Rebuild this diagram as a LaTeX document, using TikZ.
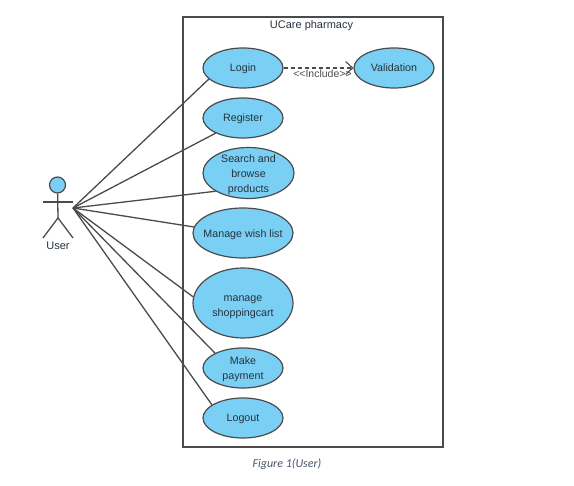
\documentclass[tikz,border=0pt]{standalone}
\usepackage{fontspec}
\setmainfont{Liberation Sans}
\newfontfamily\capfont{Carlito}
\usetikzlibrary{shapes.geometric,arrows.meta}
\definecolor{ucfill}{RGB}{122,207,245}
\definecolor{ucline}{RGB}{75,75,75}
\definecolor{txt}{RGB}{40,50,60}
\definecolor{captxt}{RGB}{68,84,106}
\newcommand{\lowerfirst}[1]{\rule{0pt}{#1}\ignorespaces}
\tikzset{
  x=1pt,y=-1pt,
  usecase/.style={ellipse,draw=ucline,line width=1.2pt,fill=ucfill,inner xsep=-20pt,inner ysep=-16pt,align=center,text=txt,font=\fontsize{10.7}{15.2}\selectfont},
  assoc/.style={draw=ucline,line width=1.3pt},
  sysbox/.style={draw=ucline,line width=1.3pt},
  label/.style={text=txt,font=\fontsize{11}{13}\selectfont,inner sep=0pt}
}
\begin{document}
\begin{tikzpicture}
\useasboundingbox (0,0) rectangle (574,486);
\node[sysbox,minimum width=260pt,minimum height=430pt,inner sep=0pt] (sys) at (313,232) {};
\node[label] (title) at (311.5,26) {UCare pharmacy};
\node[usecase,minimum width=80pt,minimum height=40pt] (login) at (243,68) {\lowerfirst{10pt}Login};
\node[usecase,minimum width=80pt,minimum height=40pt] (valid) at (394,68) {Validation};
\node[usecase,minimum width=80pt,minimum height=40pt] (reg) at (243,118) {\lowerfirst{10pt}Register};
\node[usecase,minimum width=91pt,minimum height=51pt] (search) at (248.5,173) {\lowerfirst{11pt}Search and\\browse\\products};
\node[usecase,minimum width=100pt,minimum height=50pt] (wish) at (243,233) {\lowerfirst{11pt}Manage wish list};
\node[usecase,minimum width=100pt,minimum height=70pt] (cart) at (243,303) {\lowerfirst{15pt}manage\\shoppingcart};
\node[usecase,minimum width=80pt,minimum height=40pt] (pay) at (243,368) {\lowerfirst{11pt}Make\\payment};
\node[usecase,minimum width=80pt,minimum height=40pt] (logout) at (243,418) {\lowerfirst{10pt}Logout};
% actor
\node[circle,draw=ucline,line width=1.2pt,fill=ucfill,minimum size=16pt,inner sep=0pt] (head) at (57.5,185) {};
\coordinate (hip) at (58,218);
\coordinate (armL) at (43,202);
\coordinate (armR) at (73,202);
\coordinate (legL) at (43,238);
\coordinate (legR) at (73,238);
\coordinate (act) at (73,208);
\draw[assoc] (head) -- (hip);
\draw[assoc] (armL) -- (armR);
\draw[assoc] (legL) -- (hip) -- (legR);
\node[label] (user) at (58,246) {User};
% associations
\draw[assoc] (act) -- (login.198);
\draw[assoc] (act) -- (reg.209);
\draw[assoc] (act) -- (search.209);
\draw[assoc] (act) -- (wish.173);
\draw[assoc] (act) -- (cart.173);
\draw[assoc] (act) -- (pay.152);
\draw[assoc] (act) -- (logout.157);
% include
\draw[assoc,line width=1.1pt,dash pattern=on 4pt off 3pt,-{Straight Barb[length=7pt,width=13pt]}] (login) -- (valid);
\node[label,text=ucline,font=\fontsize{10.5}{12}\selectfont] (inc) at (322.5,74) {<{}<Include>{}>};
\node[text=captxt,font=\capfont\itshape\fontsize{12}{14}\selectfont,inner sep=0pt] (cap) at (287,464) {Figure 1(User)};
\end{tikzpicture}
\end{document}
